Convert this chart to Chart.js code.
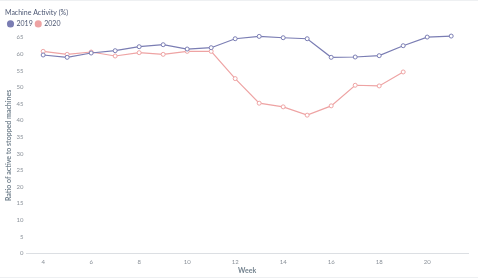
<!DOCTYPE html>
<html>
<head>
<meta charset="utf-8">
<script src="https://cdn.jsdelivr.net/npm/chart.js@4/dist/chart.umd.min.js"></script>
<style>
  html, body { margin: 0; padding: 0; background: #fff; }
  .card { width: 478px; height: 276px; border-top: 1px solid #eef0f2; border-bottom: 1px solid #eef0f2; position: relative; }
  #wrap { position: absolute; left: 0; top: 0; width: 478px; height: 280px; }
</style>
</head>
<body>
<div class="card"><div id="wrap"><canvas id="machine-chart"></canvas></div></div>
<script>
var weeks = [4, 5, 6, 7, 8, 9, 10, 11, 12, 13, 14, 15, 16, 17, 18, 19, 20, 21];
var activity2019 = [59.7, 59.0, 60.3, 61.0, 62.2, 62.8, 61.5, 61.9, 64.6, 65.3, 64.9, 64.6, 59.0, 59.1, 59.5, 62.5, 65.1, 65.4];
var activity2020 = [60.8, 59.9, 60.6, 59.4, 60.4, 59.9, 60.8, 60.8, 52.6, 45.2, 44.1, 41.6, 44.4, 50.6, 50.4, 54.6, null, null];
var xTicks = [4, 6, 8, 10, 12, 14, 16, 18, 20];
var yTicks = [0, 5, 10, 15, 20, 25, 30, 35, 40, 45, 50, 55, 60, 65];

var textColor = '#8a9199';
var darkText = '#4c5773';

function toPoints(values) {
  var pts = [];
  weeks.forEach(function (w, i) {
    if (values[i] !== null) {
      pts.push({ x: w, y: values[i] });
    }
  });
  return pts;
}

function initMachineChart() {
  var canvas = document.getElementById('machine-chart');

  if (typeof Chart === 'undefined') {
    return;
  }

  Chart.defaults.font.family = 'Lato, "Noto Sans", sans-serif';

  new Chart(canvas, {
    type: 'line',
    data: {
      datasets: [{
        label: '2019',
        data: toPoints(activity2019),
        borderColor: '#7a7db3',
        backgroundColor: '#7a7db3',
        pointBackgroundColor: '#fff',
        pointBorderColor: '#7a7db3',
        pointRadius: 2,
        pointBorderWidth: 1,
        borderWidth: 1.2,
        tension: 0,
        clip: false
      }, {
        label: '2020',
        data: toPoints(activity2020),
        borderColor: '#eea3a3',
        backgroundColor: '#eea3a3',
        pointBackgroundColor: '#fff',
        pointBorderColor: '#eea3a3',
        pointRadius: 2,
        pointBorderWidth: 1,
        borderWidth: 1.2,
        tension: 0,
        clip: false
      }]
    },
    options: {
      responsive: true,
      maintainAspectRatio: false,
      animation: false,
      layout: {
        padding: { left: 5, right: 10, top: 2, bottom: 6 }
      },
      plugins: {
        title: {
          display: true,
          text: 'Machine Activity (%)',
          align: 'start',
          color: darkText,
          font: { size: 7, weight: 'normal' },
          padding: { top: 6, bottom: 0 }
        },
        legend: {
          align: 'start',
          labels: {
            usePointStyle: true,
            pointStyle: 'circle',
            boxWidth: 5,
            boxHeight: 5,
            padding: 3,
            color: darkText,
            font: { size: 7 },
            generateLabels: function (chart) {
              return chart.data.datasets.map(function (ds, i) {
                return {
                  text: ds.label,
                  fillStyle: ds.borderColor,
                  strokeStyle: ds.borderColor,
                  lineWidth: 0,
                  pointStyle: 'circle',
                  datasetIndex: i,
                  fontColor: darkText
                };
              });
            }
          }
        },
        tooltip: { enabled: false }
      },
      scales: {
        x: {
          type: 'linear',
          min: 3.3,
          max: 21.7,
          grid: { display: false, drawTicks: false },
          border: { color: '#dcdfe3', width: 1 },
          afterBuildTicks: function (axis) {
            axis.ticks = xTicks.map(function (v) { return { value: v }; });
          },
          ticks: {
            color: textColor,
            font: { size: 6 },
            maxRotation: 0,
            padding: 5
          },
          title: {
            display: true,
            text: 'Week',
            color: '#74838f',
            font: { size: 7, weight: 'bold' },
            padding: { top: -4, bottom: 0 }
          }
        },
        y: {
          min: 0,
          max: 65,
          grid: { display: false, drawTicks: false },
          border: { display: false },
          afterBuildTicks: function (axis) {
            axis.ticks = yTicks.map(function (v) { return { value: v }; });
          },
          ticks: {
            color: textColor,
            font: { size: 6 },
            padding: 3
          },
          title: {
            display: true,
            text: 'Ratio of active to stopped machines',
            color: '#74838f',
            font: { size: 7, weight: 'bold' },
            padding: { top: 0, bottom: 0 }
          }
        }
      }
    }
  });
}

initMachineChart();
</script>
</body>
</html>
